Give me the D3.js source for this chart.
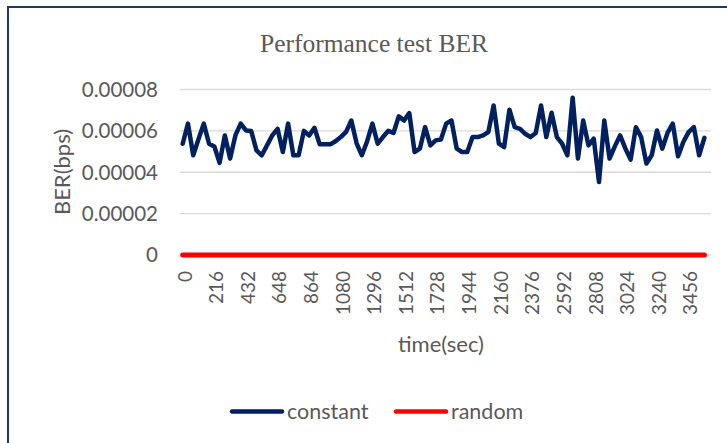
<!DOCTYPE html>
<html>
<head>
<meta charset="utf-8">
<script src="https://cdn.jsdelivr.net/npm/d3@7"></script>
<style>
  body { margin: 0; background: #fff; }
  text { fill: #595959; }
</style>
</head>
<body>
<svg id="chart" width="727" height="443"></svg>
<script>
// time in seconds, one sample every 36 s
var times = [0, 36, 72, 108, 144, 180, 216, 252, 288, 324, 360, 396, 432, 468, 504, 540, 576, 612, 648, 684,
    720, 756, 792, 828, 864, 900, 936, 972, 1008, 1044, 1080, 1116, 1152, 1188, 1224, 1260, 1296, 1332, 1368, 1404,
    1440, 1476, 1512, 1548, 1584, 1620, 1656, 1692, 1728, 1764, 1800, 1836, 1872, 1908, 1944, 1980, 2016, 2052, 2088, 2124,
    2160, 2196, 2232, 2268, 2304, 2340, 2376, 2412, 2448, 2484, 2520, 2556, 2592, 2628, 2664, 2700, 2736, 2772, 2808, 2844,
    2880, 2916, 2952, 2988, 3024, 3060, 3096, 3132, 3168, 3204, 3240, 3276, 3312, 3348, 3384, 3420, 3456, 3492, 3528, 3564];

var constantBER = [5.38e-5, 6.35e-5, 4.82e-5, 5.6e-5, 6.35e-5, 5.38e-5, 5.25e-5, 4.45e-5, 5.78e-5, 4.66e-5,
    5.78e-5, 6.35e-5, 6.02e-5, 5.99e-5, 5.06e-5, 4.82e-5, 5.3e-5, 5.78e-5, 6.1e-5, 4.98e-5,
    6.35e-5, 4.82e-5, 4.82e-5, 6.0e-5, 5.78e-5, 6.15e-5, 5.35e-5, 5.35e-5, 5.35e-5, 5.5e-5,
    5.7e-5, 5.95e-5, 6.5e-5, 5.4e-5, 4.82e-5, 5.5e-5, 6.35e-5, 5.38e-5, 5.7e-5, 6.0e-5,
    5.9e-5, 6.7e-5, 6.5e-5, 6.86e-5, 4.98e-5, 5.14e-5, 6.18e-5, 5.3e-5, 5.54e-5, 5.58e-5,
    6.35e-5, 6.5e-5, 5.14e-5, 4.98e-5, 4.98e-5, 5.7e-5, 5.7e-5, 5.78e-5, 5.94e-5, 7.23e-5,
    5.38e-5, 5.22e-5, 7.02e-5, 6.18e-5, 6.1e-5, 5.86e-5, 5.7e-5, 5.9e-5, 7.23e-5, 5.7e-5,
    6.88e-5, 5.7e-5, 5.38e-5, 4.82e-5, 7.6e-5, 4.66e-5, 6.5e-5, 5.3e-5, 5.62e-5, 3.53e-5,
    6.5e-5, 4.66e-5, 5.25e-5, 5.78e-5, 5.15e-5, 4.61e-5, 6.18e-5, 5.7e-5, 4.42e-5, 4.82e-5,
    6.02e-5, 5.14e-5, 5.9e-5, 6.35e-5, 4.77e-5, 5.46e-5, 5.94e-5, 6.18e-5, 4.82e-5, 5.66e-5];

var randomBER = [0, 0, 0, 0, 0, 0, 0, 0, 0, 0, 0, 0, 0, 0, 0, 0, 0, 0, 0, 0,
    0, 0, 0, 0, 0, 0, 0, 0, 0, 0, 0, 0, 0, 0, 0, 0, 0, 0, 0, 0,
    0, 0, 0, 0, 0, 0, 0, 0, 0, 0, 0, 0, 0, 0, 0, 0, 0, 0, 0, 0,
    0, 0, 0, 0, 0, 0, 0, 0, 0, 0, 0, 0, 0, 0, 0, 0, 0, 0, 0, 0,
    0, 0, 0, 0, 0, 0, 0, 0, 0, 0, 0, 0, 0, 0, 0, 0, 0, 0, 0, 0];

var yTicks = [0, 0.00002, 0.00004, 0.00006, 0.00008];
var yTickLabels = ["0", "0.00002", "0.00004", "0.00006", "0.00008"];

var seriesNames = ["constant", "random"];
var seriesColors = ["#002060", "#ff0000"];

var font = "Lato, 'Open Sans', sans-serif";

function draw() {
    var svg = d3.select("#chart");

    // outer frame (only left/top visible in the crop)
    svg.append("rect")
        .attr("x", 8).attr("y", 7)
        .attr("width", 760).attr("height", 480)
        .attr("fill", "none")
        .attr("stroke", "#1f3864")
        .attr("stroke-width", 2);

    var x = d3.scalePoint().domain(times).range([182.7, 704.4]);
    var y = d3.scaleLinear().domain([0, 0.00008]).range([255, 89.5]);

    // gridlines
    svg.append("g")
        .selectAll("line")
        .data(yTicks)
        .join("line")
        .attr("x1", 180).attr("x2", 711)
        .attr("y1", d => y(d)).attr("y2", d => y(d))
        .attr("stroke", "#d9d9d9")
        .attr("stroke-width", 1.3);

    // y tick labels
    svg.append("g")
        .selectAll("text")
        .data(yTicks)
        .join("text")
        .attr("x", 158)
        .attr("y", d => y(d))
        .attr("dy", "0.36em")
        .attr("text-anchor", "end")
        .style("font", "20.5px " + font)
        .text((d, i) => yTickLabels[i]);

    // x tick labels, every 6th sample, rotated
    svg.append("g")
        .selectAll("text")
        .data(times.filter((t, i) => i % 6 == 0))
        .join("text")
        .attr("transform", d => `translate(${x(d) + 2},271) rotate(-90)`)
        .attr("dy", "0.36em")
        .attr("text-anchor", "end")
        .style("font", "19px " + font)
        .text(d => d);

    // series lines
    var line = d3.line()
        .x((d, i) => x(times[i]))
        .y(d => y(d));

    [randomBER, constantBER].forEach((s, k) => {
        svg.append("path")
            .datum(s)
            .attr("d", line)
            .attr("fill", "none")
            .attr("stroke", k == 0 ? seriesColors[1] : seriesColors[0])
            .attr("stroke-width", k == 0 ? 5 : 4.5)
            .attr("stroke-linejoin", "round")
            .attr("stroke-linecap", "round");
    });

    // title and axis titles
    svg.append("text")
        .attr("x", 374).attr("y", 52)
        .attr("text-anchor", "middle")
        .style("font", "25.5px 'Liberation Serif', 'Times New Roman', serif")
        .text("Performance test BER");

    svg.append("text")
        .attr("x", 441).attr("y", 352)
        .attr("text-anchor", "middle")
        .style("font", "22px " + font)
        .text("time(sec)");

    svg.append("text")
        .attr("transform", "translate(62,172) rotate(-90)")
        .attr("dy", "0.36em")
        .attr("text-anchor", "middle")
        .style("font", "22px " + font)
        .text("BER(bps)");

    // legend
    var legendX = [230, 394];
    var legend = svg.append("g")
        .selectAll("g")
        .data(seriesNames)
        .join("g")
        .attr("transform", (d, i) => `translate(${legendX[i]},411.5)`);
    legend.append("line")
        .attr("x1", 2).attr("x2", 52)
        .attr("stroke", (d, i) => seriesColors[i])
        .attr("stroke-width", 4.5)
        .attr("stroke-linecap", "round");
    legend.append("text")
        .attr("x", 57)
        .attr("dy", "0.36em")
        .style("font", "21.5px " + font)
        .text(d => d);
}

draw();
</script>
</body>
</html>
